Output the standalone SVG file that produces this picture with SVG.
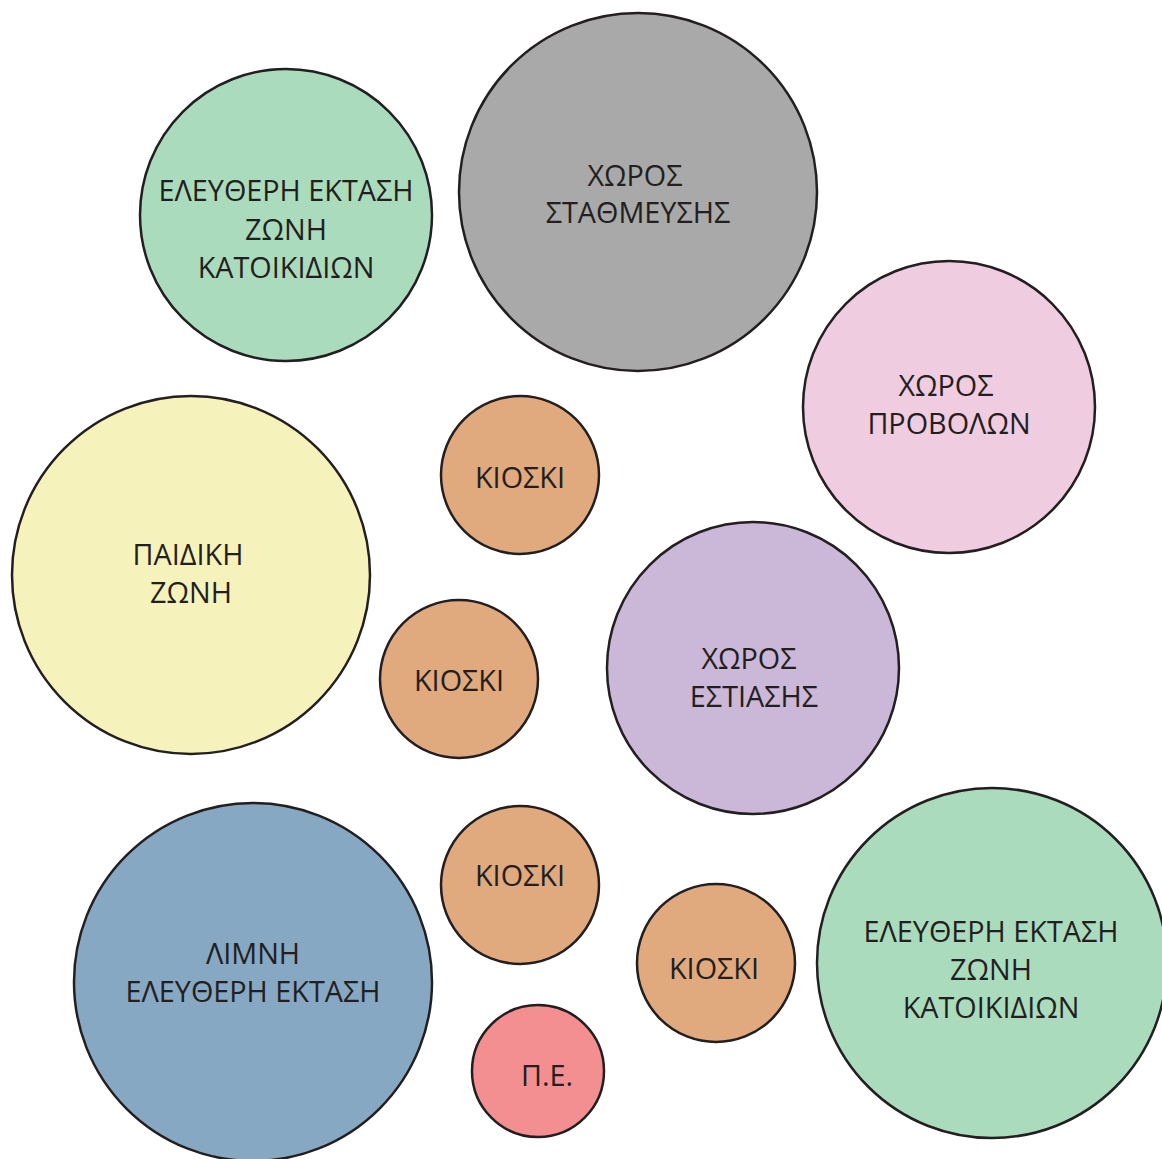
<svg xmlns="http://www.w3.org/2000/svg" width="1162" height="1159" viewBox="0 0 1162 1159">
<style>
circle{stroke:#231f20;stroke-width:2.5}
text{font-family:"Open Sans","Liberation Sans",sans-serif;font-size:28.8px;fill:#231f20;text-anchor:middle}
.g{fill:#abdbbd}.gr{fill:#a8a9a8}.p{fill:#f0cce1}.y{fill:#f6f2bc}.o{fill:#e0a97e}.v{fill:#cbb7d8}.b{fill:#87a8c3}.r{fill:#f38f90}
</style>
<rect width="1162" height="1159" fill="#fff"/>
<g id="connectors"/>
<g id="pets1"><circle class="g" cx="286" cy="215" r="146"/><text x="286" y="201">ΕΛΕΥΘΕΡΗ ΕΚΤΑΣΗ</text><text x="286" y="240">ΖΩΝΗ</text><text x="286" y="278">ΚΑΤΟΙΚΙΔΙΩΝ</text></g>
<g id="parking"><circle class="gr" cx="638" cy="192" r="179"/><text x="635" y="186">ΧΩΡΟΣ</text><text x="638" y="223">ΣΤΑΘΜΕΥΣΗΣ</text></g>
<g id="projection"><circle class="p" cx="949" cy="407" r="146"/><text x="946" y="396">ΧΩΡΟΣ</text><text x="949" y="434">ΠΡΟΒΟΛΩΝ</text></g>
<g id="kiosk1"><circle class="o" cx="520" cy="475" r="79"/><text x="520" y="488">ΚΙΟΣΚΙ</text></g>
<g id="kids"><circle class="y" cx="191" cy="575" r="179"/><text x="188" y="565">ΠΑΙΔΙΚΗ</text><text x="191" y="603">ΖΩΝΗ</text></g>
<g id="kiosk2"><circle class="o" cx="459" cy="679" r="79"/><text x="459" y="691">ΚΙΟΣΚΙ</text></g>
<g id="dining"><circle class="v" cx="753" cy="668" r="146"/><text x="749" y="669">ΧΩΡΟΣ</text><text x="754" y="707">ΕΣΤΙΑΣΗΣ</text></g>
<g id="lake"><circle class="b" cx="253" cy="982" r="179"/><text x="253" y="964">ΛΙΜΝΗ</text><text x="253" y="1002">ΕΛΕΥΘΕΡΗ ΕΚΤΑΣΗ</text></g>
<g id="kiosk3"><circle class="o" cx="520" cy="885" r="79"/><text x="520" y="886">ΚΙΟΣΚΙ</text></g>
<g id="kiosk4"><circle class="o" cx="716" cy="963" r="79"/><text x="714" y="979">ΚΙΟΣΚΙ</text></g>
<g id="pets2"><circle class="g" cx="992" cy="963" r="175"/><text x="991" y="942">ΕΛΕΥΘΕΡΗ ΕΚΤΑΣΗ</text><text x="991" y="980">ΖΩΝΗ</text><text x="991" y="1018">ΚΑΤΟΙΚΙΔΙΩΝ</text></g>
<g id="pe"><circle class="r" cx="538" cy="1071" r="66"/><text x="547" y="1086">Π.Ε.</text></g>
</svg>
